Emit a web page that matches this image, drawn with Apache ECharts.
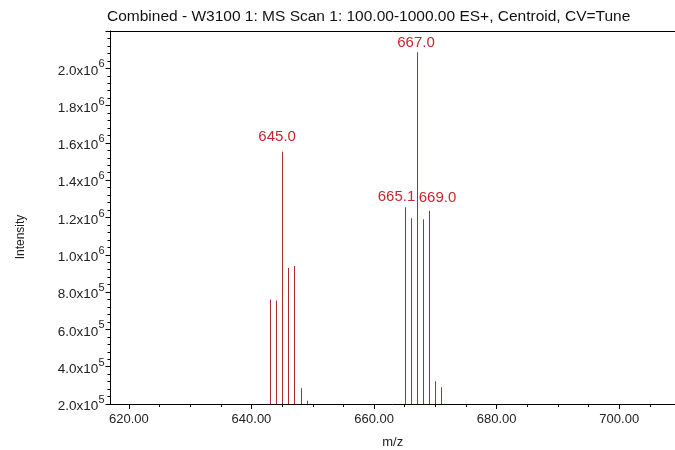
<!DOCTYPE html>
<html>
<head>
<meta charset="utf-8">
<script src="https://cdn.jsdelivr.net/npm/echarts@6/dist/echarts.min.js"></script>
<style>
  html, body { margin: 0; padding: 0; background: #fff; }
  #chart { width: 675px; height: 450px; }
</style>
</head>
<body>
<div id="chart"></div>
<script>
// Centroided peaks: m/z and intensity
const peakMz = [643.0, 644.0, 645.0, 646.0, 647.0, 648.0, 649.0,
                665.1, 666.0, 667.0, 668.0, 669.0, 670.0, 671.0];
const peakIntensity = [760000, 755000, 1553000, 930000, 940000, 285000, 218000,
                       1255000, 1196000, 2086000, 1190000, 1236000, 322000, 290000];

// Peaks that carry an m/z annotation
const labelledMz = [645.0, 667.0, 665.1, 669.0];

// Axis ranges and tick values
const xMin = 617.0, xMax = 709.1;
const yMin = 200000, yMax = 2200000, yStep = 200000;
const xMajorTicks = [620, 640, 660, 680, 700];
const xMinorTicks = [620, 625, 630, 635, 640, 645, 650, 655, 660, 665, 670, 675, 680, 685, 690, 695, 700, 705];

const titleText = 'Combined - W3100 1: MS Scan 1: 100.00-1000.00 ES+, Centroid, CV=Tune';

const FONT = '"Liberation Sans", Arial, sans-serif';
const STICK = '#b02a33';
const LABEL = '#c8262e';

// where each annotation sits relative to its peak top
const labelPlacement = {
  '645.0': { dx: -5, dy: -15, align: 'center' },
  '667.0': { dx: -1, dy: -9, align: 'center' },
  '665.1': { dx: 10, dy: -10, align: 'right' },
  '669.0': { dx: -10.5, dy: -13, align: 'left' }
};

const sticks = peakMz.map((m, i) => [m, peakIntensity[i]]);
const labels = labelledMz.map(m => [m, peakIntensity[peakMz.indexOf(m)]]);

function sciLabel(v) {
  if (v > yMax - yStep / 2) return '';
  const e = Math.floor(Math.log10(v) + 1e-9);
  const m = v / Math.pow(10, e);
  return '{m|' + m.toFixed(1) + 'x10}{e|' + e + '}';
}

const chart = echarts.init(document.getElementById('chart'), null, { renderer: 'canvas' });

chart.setOption({
  backgroundColor: '#ffffff',
  animation: false,
  title: {
    text: titleText,
    left: 107,
    top: 9,
    padding: 0,
    textStyle: { fontFamily: FONT, fontSize: 15.5, fontWeight: 'normal', color: '#111' }
  },
  grid: { left: 110.5, right: 0, top: 31, bottom: 46, containLabel: false, outerBoundsMode: 'none' },
  xAxis: [
    {
      type: 'value', min: xMin, max: xMax, position: 'bottom',
      name: 'm/z', nameLocation: 'middle', nameGap: 32,
      nameTextStyle: { fontFamily: FONT, fontSize: 13, color: '#222' },
      axisLine: { show: true, lineStyle: { color: '#000', width: 1 } },
      axisTick: { show: true, length: 5, customValues: xMajorTicks, lineStyle: { color: '#000' } },
      axisLabel: {
        customValues: xMajorTicks, margin: 9,
        formatter: v => v.toFixed(2),
        fontFamily: FONT, fontSize: 13, color: '#222'
      },
      splitLine: { show: false }
    },
    {
      type: 'value', min: xMin, max: xMax, position: 'bottom', gridIndex: 0,
      axisLine: { show: false },
      axisTick: { show: true, length: 3, customValues: xMinorTicks, lineStyle: { color: '#000' } },
      axisLabel: { show: false },
      splitLine: { show: false }
    },
    {
      type: 'value', min: xMin, max: xMax, position: 'top',
      axisLine: { show: true, lineStyle: { color: '#000', width: 1 } },
      axisTick: { show: false }, axisLabel: { show: false }, splitLine: { show: false }
    }
  ],
  yAxis: {
    type: 'value', min: yMin, max: yMax, interval: yStep,
    axisLine: { show: true, lineStyle: { color: '#000', width: 1 } },
    axisTick: { show: true, length: 5, lineStyle: { color: '#000' } },
    minorTick: { show: true, splitNumber: 5, length: 3, lineStyle: { color: '#000' } },
    splitLine: { show: false },
    axisLabel: {
      margin: 6,
      formatter: sciLabel,
      padding: [0, 0, 0, 0],
      rich: {
        m: { fontFamily: FONT, fontSize: 13.5, color: '#222', verticalAlign: 'bottom', padding: [5, 0, 0, 0] },
        e: { fontFamily: FONT, fontSize: 11, color: '#222', verticalAlign: 'top' }
      }
    }
  },
  graphic: [{
    type: 'text',
    x: 21, y: 237, rotation: Math.PI / 2,
    style: {
      text: 'Intensity', fontFamily: FONT, fontSize: 12, fill: '#222',
      align: 'center', verticalAlign: 'middle'
    }
  }],
  series: [
    {
      type: 'custom', xAxisIndex: 0, yAxisIndex: 0,
      data: sticks,
      clip: true,
      renderItem: (params, api) => {
        const top = api.coord([api.value(0), api.value(1)]);
        const base = api.coord([api.value(0), yMin]);
        const x = Math.round(top[0]) + 0.5;
        return {
          type: 'line',
          shape: { x1: x, y1: top[1], x2: x, y2: base[1] },
          style: { stroke: STICK, lineWidth: 1 }
        };
      }
    },
    {
      type: 'custom', xAxisIndex: 0, yAxisIndex: 0,
      data: labels,
      renderItem: (params, api) => {
        const mz = api.value(0);
        const top = api.coord([mz, api.value(1)]);
        const key = mz.toFixed(1);
        const p = labelPlacement[key] || { dx: 0, dy: -10, align: 'center' };
        return {
          type: 'text',
          x: top[0] + p.dx, y: top[1] + p.dy,
          style: {
            text: key, fontFamily: FONT, fontSize: 15, fill: LABEL,
            align: p.align, verticalAlign: 'middle'
          }
        };
      }
    }
  ]
});
</script>
</body>
</html>
